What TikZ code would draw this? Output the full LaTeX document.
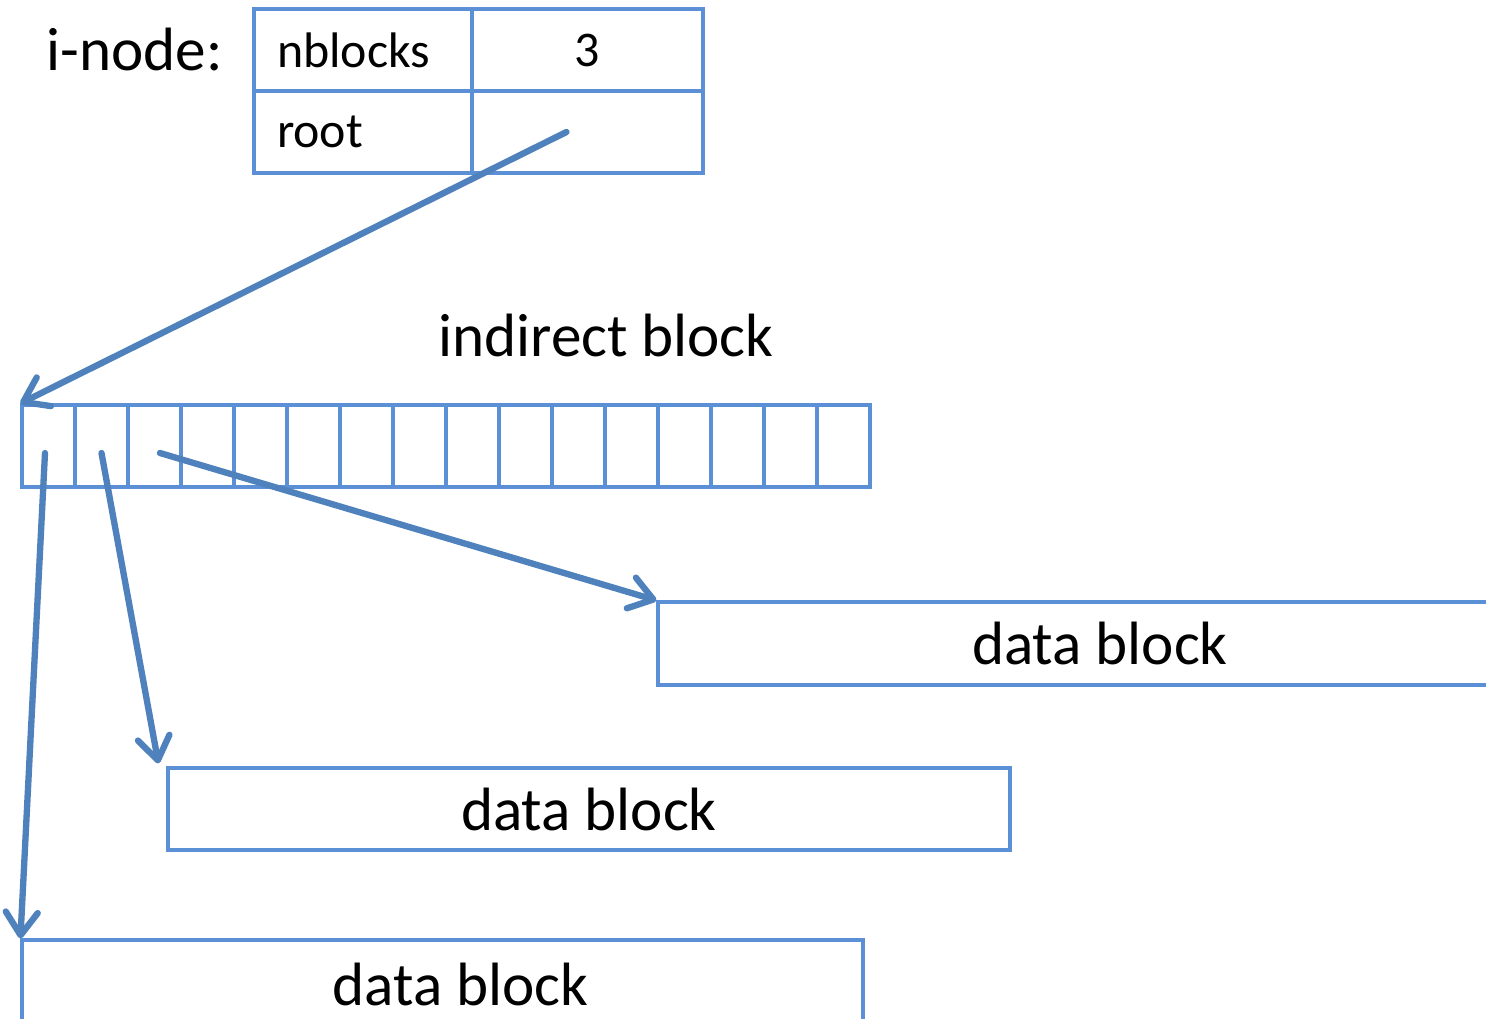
\documentclass[tikz,border=0pt]{standalone}
\usepackage{fontspec}
\setmainfont{Carlito}
\usetikzlibrary{arrows.meta,positioning}
\definecolor{boxblue}{HTML}{5B8FD6}
\definecolor{arrowblue}{HTML}{4F81BD}
\tikzset{
	cellbox/.style={draw=boxblue,line width=0.9pt,inner sep=0pt,minimum height=0.82cm},
	ptr/.style={draw=arrowblue,line width=1.8pt,line cap=round,-{Straight Barb[length=2.3mm,width=3.2mm,round]}},
	bigtext/.style={inner sep=0pt,font=\fontsize{17.4}{20}\selectfont},
	smalltext/.style={font=\fontsize{14.2}{17}\selectfont}
}
\begin{document}
\begin{tikzpicture}
	\clip (0,0) rectangle (14.86,-10.19);
	%INODE
	\node[cellbox,smalltext,minimum width=2.18cm,text width=1.72cm,align=left] (nb) at (3.63,-0.50) {nblocks};
	\node[cellbox,smalltext,minimum width=2.31cm] (nbval) at (5.875,-0.50) {3};
	\node[cellbox,smalltext,minimum width=2.18cm,text width=1.72cm,align=left] (root) at (3.63,-1.32) {root};
	\node[cellbox,minimum width=2.31cm] (rootval) at (5.875,-1.32) {};
	\node[bigtext,left=0.29cm of nb] (inode) {i-node:};
	
	%INDIRECT BLOCK
	\node[bigtext] (ind) at (6.06,-3.35) {indirect block};
	\foreach \i in {1,...,16}
		\node[cellbox,minimum width=0.53cm] (c\i) at ({0.22+0.53*\i-0.265},-4.46) {};
	
	%DATA BLOCKS
	\node[cellbox,bigtext,minimum width=8.84cm,minimum height=0.83cm] (db1) at (11.00,-6.435) {data block};
	\node[cellbox,bigtext,minimum width=8.42cm] (db2) at (5.89,-8.09) {data block};
	\node[cellbox,minimum width=8.41cm,label={[bigtext,xshift=0.18cm,yshift=-0.03cm]center:data block}] (db3) at (4.425,-9.81) {};
	
	%POINTERS
	\draw[ptr] ([xshift=-0.21cm]rootval.center) -- (c1.north west);
	\draw[ptr] ([xshift=-0.035cm,yshift=-0.07cm]c1.center) -- (db3.north west);
	\draw[ptr] ([yshift=-0.07cm]c2.center) -- ([xshift=-0.08cm,yshift=0.03cm]db2.north west);
	\draw[ptr] ([xshift=0.055cm,yshift=-0.07cm]c3.center) -- (db1.north west);
\end{tikzpicture}
\end{document}
